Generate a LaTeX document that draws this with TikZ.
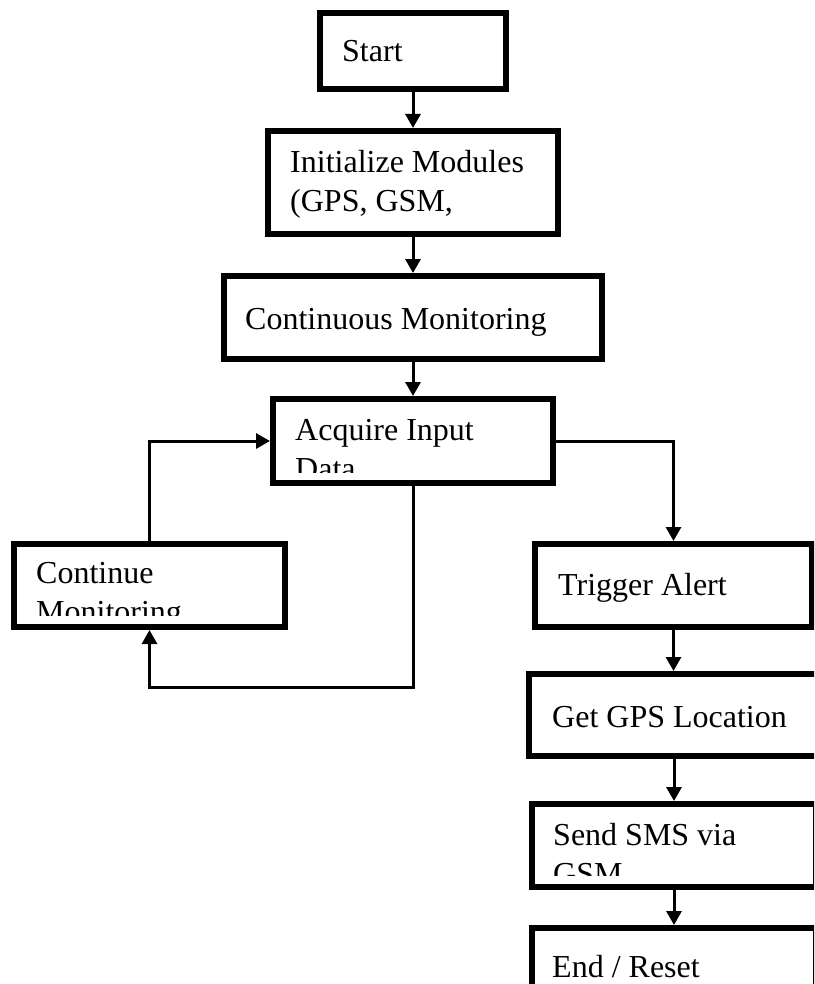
\documentclass[tikz,border=0pt]{standalone}
\usepackage{fontspec}
\setmainfont{Liberation Serif}
\usetikzlibrary{arrows.meta}
\begin{document}
\begin{tikzpicture}[x=1pt,y=-1pt,
  stepbox/.style={draw, line width=6pt, inner sep=0pt, fill=white},
  conn/.style={line width=3pt, -{Triangle[length=14pt,width=15pt]}},
  boxtext/.style={anchor=base west, inner sep=0pt, font=\fontsize{32}{39}\selectfont}]
  \useasboundingbox (0,0) rectangle (814,984);
  \clip (0,0) rectangle (814,984);

  % process boxes
  \node[stepbox, minimum width=186pt, minimum height=76pt]  (start) at (413,51)    {};
  \node[stepbox, minimum width=290pt, minimum height=103pt] (init)  at (413,182.5) {};
  \node[stepbox, minimum width=378pt, minimum height=83pt]  (cmon)  at (413,317.5) {};
  \node[stepbox, minimum width=280pt, minimum height=84pt]  (acq)   at (413,441)   {};
  \node[stepbox, minimum width=271pt, minimum height=83pt]  (cont)  at (149.5,585.5) {};
  \node[stepbox, minimum width=277pt, minimum height=83pt]  (trig)  at (673.5,585.5) {};
  \node[stepbox, minimum width=290pt, minimum height=82pt]  (gps)   at (674,715)   {};
  \node[stepbox, minimum width=284pt, minimum height=83pt]  (sms)   at (674,845.5) {};
  \node[stepbox, minimum width=284pt, minimum height=82pt]  (done)  at (674,969)   {};

  % box texts, cut off at the lower inner edge of each box
  \node[boxtext] (tstart) at (342,62) {Start};
  \begin{scope}
    \clip (271,134) rectangle (555,223);
    \node[boxtext] (tinit1) at (290,173) {Initialize Modules};
    \node[boxtext] (tinit2) at (290,212) {(GPS, GSM,};
  \end{scope}
  \node[boxtext] (tcmon) at (245,329) {Continuous Monitoring};
  \begin{scope}
    \clip (276,402) rectangle (550,472);
    \node[boxtext] (tacq1) at (295,440) {Acquire Input};
    \node[boxtext] (tacq2) at (295,479) {Data};
  \end{scope}
  \begin{scope}
    \clip (17,547) rectangle (282,615);
    \node[boxtext] (tcont1) at (36,583) {Continue};
    \node[boxtext] (tcont2) at (36,622) {Monitoring};
  \end{scope}
  \node[boxtext] (ttrig) at (558,595) {Trigger Alert};
  \node[boxtext] (tgps) at (552,727) {Get GPS Location};
  \begin{scope}
    \clip (535,807) rectangle (814,875);
    \node[boxtext] (tsms1) at (553,845) {Send SMS via};
    \node[boxtext] (tsms2) at (553,884) {GSM};
  \end{scope}
  \node[boxtext] (tdone) at (552,977) {End / Reset};

  % connectors
  \coordinate (loopc) at (413,687);
  \draw[conn] (start) -- (init);
  \draw[conn] (init) -- (cmon);
  \draw[conn] (cmon) -- (acq);
  \draw[conn] (acq.east) -| (trig.north);
  \draw[conn] (cont.north) |- (acq.west);
  \draw[conn] (acq.south) -- (loopc) -| (cont.south);
  \draw[conn] (trig.south) -- (trig.south |- gps.north);
  \draw[conn] (gps.south) -- (gps.south |- sms.north);
  \draw[conn] (sms.south) -- (sms.south |- done.north);
\end{tikzpicture}
\end{document}
